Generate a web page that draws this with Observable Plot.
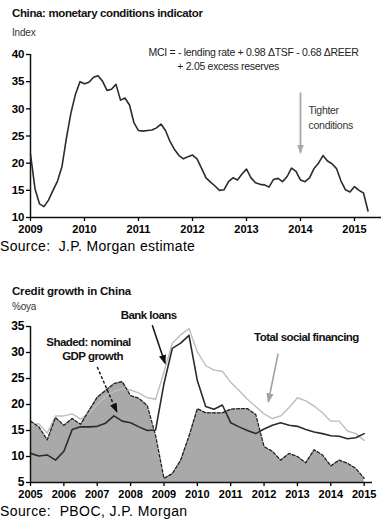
<!DOCTYPE html>
<html><head><meta charset="utf-8">
<script src="https://cdn.jsdelivr.net/npm/d3@7"></script>
<script src="https://cdn.jsdelivr.net/npm/@observablehq/plot@0.6"></script>
<style>
body{margin:0;background:#fff;}
#wrap{position:relative;width:390px;height:524px;overflow:hidden;font-family:Arial,"Liberation Sans",sans-serif;}
.abs{position:absolute;white-space:nowrap;line-height:1;}
.title{font-weight:bold;font-size:11.5px;color:#111;}
.unit{font-size:10px;color:#333;letter-spacing:-0.2px;}
.src{font-size:14px;color:#000;letter-spacing:0.3px;}
#top,#bot{position:absolute;left:0;}
#top{top:0;} #bot{top:300px;}
svg{overflow:visible;}
</style></head>
<body><div id="wrap">
<div class="abs title" style="left:12px;top:8px;letter-spacing:-0.37px">China: monetary conditions indicator</div>
<div class="abs unit" style="left:12px;top:27.5px">Index</div>
<div id="top"></div>
<div class="abs src" style="left:0px;top:239px">Source:&nbsp; J.P. Morgan estimate</div>
<div class="abs title" style="left:12px;top:285.5px;letter-spacing:-0.2px">Credit growth in China</div>
<div class="abs unit" style="left:12px;top:301.5px">%oya</div>
<div id="bot"></div>
<div class="abs src" style="left:0px;top:504px;letter-spacing:0.4px">Source:&nbsp; PBOC, J.P. Morgan</div>
</div>
<script>
// ---- Top chart: monthly MCI, Jan 2009 onward ----
const mciStart = 2009;
const mci = [21.6,15.3,12.5,12.0,13.2,15.0,16.7,19.4,24.7,29.3,32.7,35.0,
  34.6,34.9,35.8,36.1,35.1,33.4,33.6,34.5,31.6,32.0,30.7,27.4,
  26.0,25.9,26.0,26.1,26.5,27.2,26.0,24.0,22.5,21.4,20.8,21.2,
  21.5,20.8,19.1,17.3,16.5,15.8,15.0,15.1,16.6,17.3,16.9,18.0,
  18.9,17.3,16.4,16.1,16.0,15.6,17.0,17.2,16.6,17.5,19.1,18.5,
  16.9,16.6,17.3,19.0,20.0,21.4,20.4,19.9,19.0,16.7,15.1,14.7,
  15.7,15.0,14.5,11.2];
const topYTicks = [10,15,20,25,30,35,40];
const topXTicks = [2009,2010,2011,2012,2013,2014,2015];
const mciNotes = [
  {x:2013.13, y:40.35, text:"MCI = - lending rate + 0.98 \u0394TSF - 0.68 \u0394REER"},
  {x:2012.66, y:37.8, text:"+ 2.05 excess reserves"}
];
const tightNotes = [
  {x:2014.15, y:29.7, text:"Tighter"},
  {x:2014.15, y:26.9, text:"conditions"}
];
const topArrows = [{x1:2014.0, y1:33.0, x2:2014.0, y2:22.0}];

// ---- Bottom chart: quarterly, 2005Q1 onward ----
const qStart = 2005;
const gdp = [16.8,15.7,13.2,17.5,16.0,17.3,16.2,18.8,21.4,22.7,24.0,24.4,21.7,21.2,19.8,14.0,
  5.8,6.7,9.3,13.9,19.2,18.4,18.4,18.4,19.1,19.2,19.2,18.1,11.9,11.0,9.3,10.6,10.0,8.8,11.3,10.3,8.2,9.3,8.7,7.7,5.8];
const loans = [10.6,10.1,10.3,9.3,11.0,15.2,15.7,15.7,15.8,16.4,17.8,16.8,16.5,15.7,15.0,15.1,
  24.0,30.8,31.8,33.3,24.6,19.6,19.1,19.9,16.5,15.7,15.0,14.4,15.3,16.0,16.5,16.0,15.8,15.2,14.7,14.4,14.0,13.9,13.4,13.6,14.4];
const tsf = [16.0,16.3,14.5,17.8,17.8,18.2,17.2,18.3,20.0,21.5,22.5,23.0,22.8,22.2,21.3,21.0,
  26.2,31.8,33.4,34.6,30.1,27.5,26.6,26.4,24.3,22.7,21.0,19.6,18.2,17.3,17.8,19.4,21.3,20.7,19.7,18.4,16.8,16.8,14.9,14.4,13.1];
const botYTicks = [5,10,15,20,25,30,35];
const botXTicks = [2005,2006,2007,2008,2009,2010,2011,2012,2013,2014,2015];
const botNotes = [
  {x:2008.54, y:37.2, text:"Bank loans"},
  {x:2006.74, y:32.0, text:"Shaded: nominal"},
  {x:2006.86, y:29.3, text:"GDP growth"},
  {x:2013.27, y:32.9, text:"Total social financing"}
];
const darkArrows = [{x1:2008.65, y1:35.25, x2:2009.03, y2:28.0}];
const dashArrows = [{x1:2007.0, y1:27.2, x2:2007.58, y2:18.7}];
const grayArrows = [{x1:2012.42, y1:29.8, x2:2012.13, y2:20.6}];

const mciData = mci.map((v,i)=>({t: mciStart + i/12, v}));
const qData = gdp.map((g,i)=>({t: qStart + i/4, gdp: g, loans: loans[i], tsf: tsf[i]}));

const font = "Arial, 'Liberation Sans', Helvetica, sans-serif";
const ns = "http://www.w3.org/2000/svg";

function addHead(svg, group, color, id, size) {
  let defs = svg.querySelector("defs");
  if (!defs) { defs = document.createElementNS(ns, "defs"); svg.insertBefore(defs, svg.firstChild); }
  const m = document.createElementNS(ns, "marker");
  m.setAttribute("id", id);
  m.setAttribute("viewBox", "-5 -5 10 10");
  m.setAttribute("refX", "3");
  m.setAttribute("refY", "0");
  m.setAttribute("markerUnits", "userSpaceOnUse");
  m.setAttribute("markerWidth", size);
  m.setAttribute("markerHeight", size);
  m.setAttribute("orient", "auto");
  const p = document.createElementNS(ns, "path");
  p.setAttribute("d", "M-5,-3.6L5,0L-5,3.6Z");
  p.setAttribute("fill", color);
  p.setAttribute("stroke", "none");
  m.appendChild(p);
  defs.appendChild(m);
  if (group) group.querySelectorAll("path").forEach(el => {
    el.setAttribute("marker-end", `url(#${id})`);
    el.style.markerEnd = `url(#${id})`;
  });
}

const topPlot = Plot.plot({
  width:390, height:240, marginTop:54, marginBottom:23, marginLeft:30, marginRight:9,
  x:{domain:[2009,2015.5]}, y:{domain:[10,40]},
  style:{fontFamily:font, fontSize:"11px", fontWeight:"bold", color:"#000", background:"transparent"},
  marks:[
    Plot.axisY({ticks:topYTicks, tickSize:4, tickPadding:2, fontSize:11.5, label:null, tickFormat:d=>String(d), strokeWidth:1.3}),
    Plot.axisX({ticks:topXTicks, tickSize:4, tickPadding:4, fontSize:11, label:null, tickFormat:d=>String(d), strokeWidth:1.3}),
    Plot.ruleX([2009], {y1:10, y2:40, stroke:"#111", strokeWidth:1.5}),
    Plot.ruleY([10], {stroke:"#111", strokeWidth:1.6}),
    Plot.line(mciData, {x:"t", y:"v", stroke:"#2b2b2b", strokeWidth:1.6}),
    Plot.link(topArrows, {x1:"x1", y1:"y1", x2:"x2", y2:"y2", stroke:"#a8a8a8", strokeWidth:1.8}),
    Plot.text(mciNotes, {x:"x", y:"y", text:"text", fontWeight:"normal", fontSize:10.5, fill:"#222"}),
    Plot.text(tightNotes, {x:"x", y:"y", text:"text", textAnchor:"start", fontWeight:"normal", fontSize:10.5, fill:"#333"})
  ]
});
{
  const links = topPlot.querySelectorAll('g[aria-label="link"]');
  addHead(topPlot, links[0], "#a8a8a8", "headTop", 9);
  const texts = topPlot.querySelectorAll('g[aria-label="text"]');
  texts.forEach(g => g.style.letterSpacing = "-0.3px");
}
document.getElementById("top").append(topPlot);

const botPlot = Plot.plot({
  width:390, height:210, marginTop:26, marginBottom:28, marginLeft:30, marginRight:18,
  x:{domain:[2005,2015.25]}, y:{domain:[5,35]},
  style:{fontFamily:font, fontSize:"11px", fontWeight:"bold", color:"#000", background:"transparent"},
  marks:[
    Plot.areaY(qData, {x:"t", y1:5, y2:"gdp", fill:"#a9a9a9"}),
    Plot.line(qData, {x:"t", y:"tsf", stroke:"#bdbdbd", strokeWidth:1.4}),
    Plot.line(qData, {x:"t", y:"loans", stroke:"#2b2b2b", strokeWidth:1.6}),
    Plot.line(qData, {x:"t", y:"gdp", stroke:"#222", strokeWidth:1.3, strokeDasharray:"3,2"}),
    Plot.axisY({ticks:botYTicks, tickSize:4, tickPadding:2, fontSize:12, label:null, tickFormat:d=>String(d), strokeWidth:1.3}),
    Plot.axisX({ticks:botXTicks, tickSize:4, tickPadding:4, fontSize:11, label:null, tickFormat:d=>String(d), strokeWidth:1.3}),
    Plot.ruleX([2005], {y1:5, y2:35, stroke:"#111", strokeWidth:1.5}),
    Plot.ruleY([5], {stroke:"#111", strokeWidth:1.6}),
    Plot.link(darkArrows, {x1:"x1", y1:"y1", x2:"x2", y2:"y2", stroke:"#111", strokeWidth:1.5}),
    Plot.link(dashArrows, {x1:"x1", y1:"y1", x2:"x2", y2:"y2", stroke:"#111", strokeWidth:1.4, strokeDasharray:"3,2"}),
    Plot.link(grayArrows, {x1:"x1", y1:"y1", x2:"x2", y2:"y2", stroke:"#a0a0a0", strokeWidth:1.6}),
    Plot.text(botNotes, {x:"x", y:"y", text:"text", fontWeight:"bold", fontSize:11.5, fill:"#111"})
  ]
});
{
  const links = botPlot.querySelectorAll('g[aria-label="link"]');
  addHead(botPlot, links[0], "#111", "headDark", 10);
  addHead(botPlot, links[1], "#111", "headDash", 10);
  addHead(botPlot, links[2], "#a0a0a0", "headGray", 10);
  const texts = botPlot.querySelectorAll('g[aria-label="text"]');
  texts.forEach(g => g.style.letterSpacing = "-0.55px");
}
document.getElementById("bot").append(botPlot);
</script>
</body></html>
